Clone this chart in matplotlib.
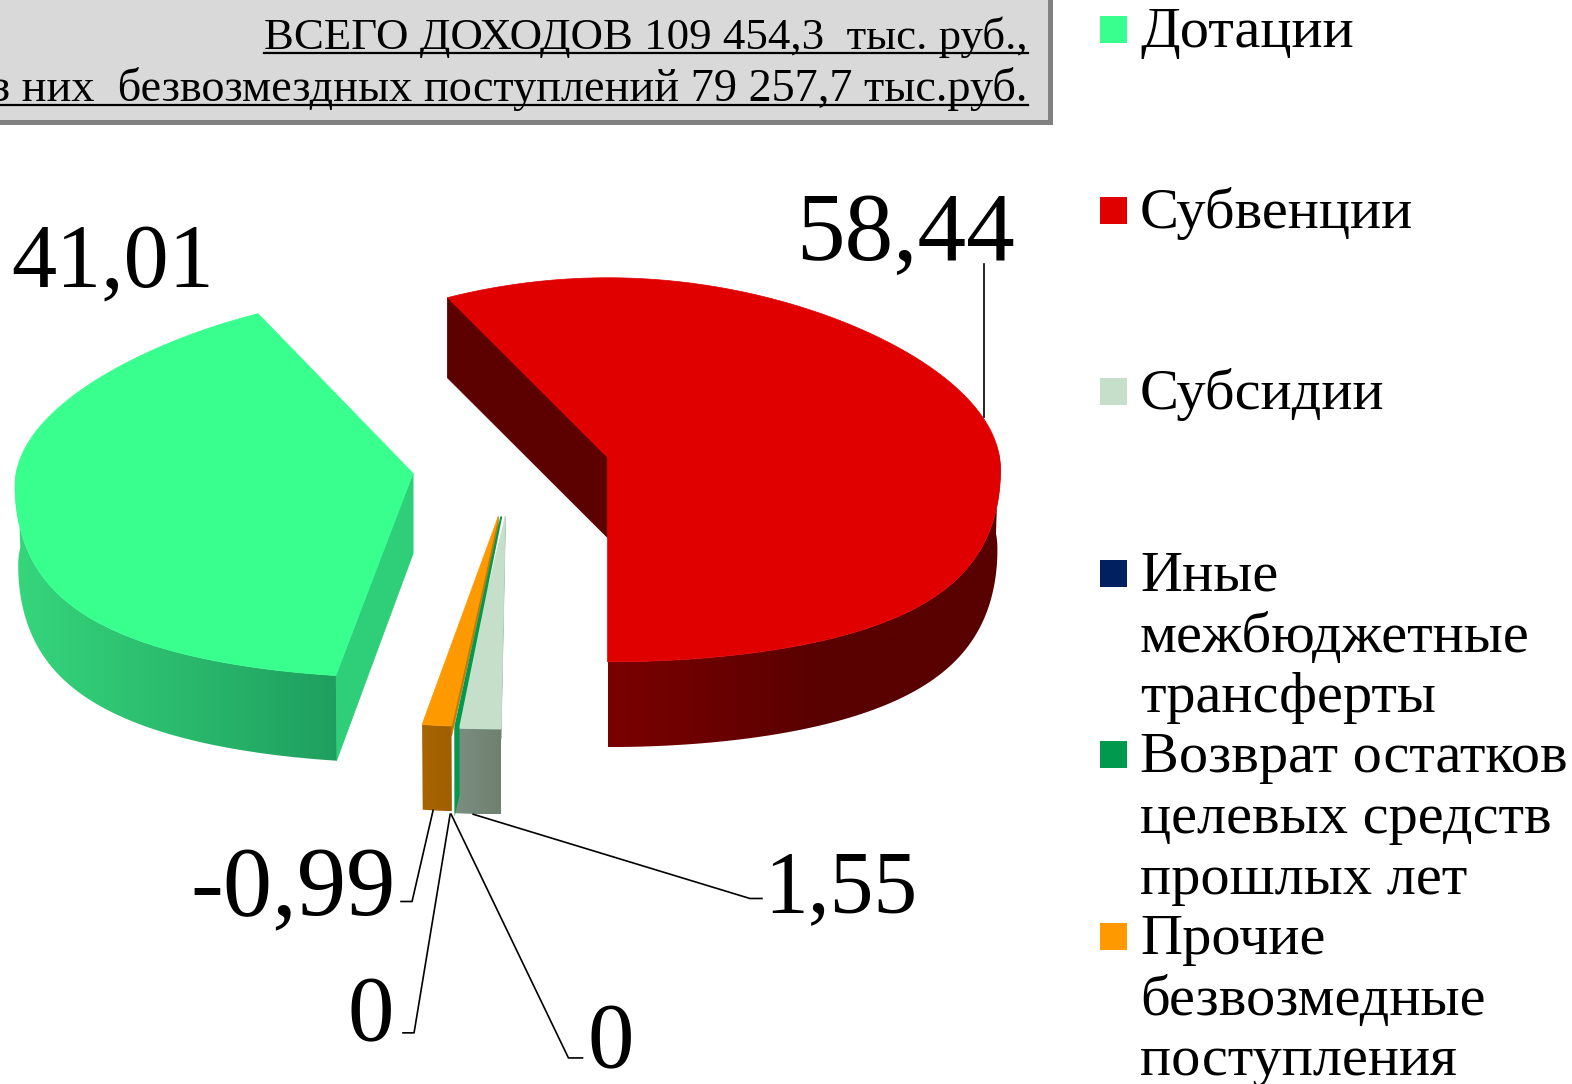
import numpy as np
import matplotlib
matplotlib.use('Agg')
import matplotlib.pyplot as plt
from matplotlib.colors import LinearSegmentedColormap
from matplotlib.patches import Polygon, Rectangle

plt.rcParams['font.family'] = ['Liberation Serif', 'DejaVu Serif']

categories = ['Дотации', 'Субвенции', 'Субсидии',
              'Иные\nмежбюджетные\nтрансферты',
              'Возврат остатков\nцелевых средств\nпрошлых лет',
              'Прочие\nбезвозмедные\nпоступления']
values = [41.01, 58.44, 1.55, 0, 0, -0.99]
colors = ['#39ff8f', '#e00000', '#c5dfcb', '#002060', '#00994d', '#ff9900']

title_lines = ['ВСЕГО ДОХОДОВ 109 454,3  тыс. руб.,',
               'из них  безвозмездных поступлений 79 257,7 тыс.руб.']

# where each slice sits after the explosion: apex x, apex y, width, y radius, turn, side drop, back squeeze
GEOM = [
    (412, 472, 397, 1.0, 0, 80, 0.15),
    (606, 456, 392, 1.0, 0, 80, 0.1),
    (504, 515, 392, 1.042, 0.5, 10, 0.1),
    (501, 515, 392, 1.0, 0, 10, 0.1),
    (500, 515, 392, 1.03, 0, 10, 0.1),
    (497, 515, 392, 1.031, 0, 10, 0.1),
]
# side face, rim left, rim right
SHADE = [
    ('#2ecf78', '#36d67c', '#1f9f5f'),
    ('#5c0000', '#7a0000', '#590000'),
    ('#a9bfae', '#7c8f80', '#6f8070'),
    ('#00994d', '#00873f', '#00873f'),
    ('#00994d', '#00994d', '#00994d'),
    ('#c97800', '#a86400', '#a05f00'),
]
RY = 191.5
SHIFT = 12.5

fig = plt.figure(figsize=(15.72, 10.84), dpi=100)
ax = fig.add_axes([0, 0, 1, 1])
ax.axis('off')


def rim(theta, g, drop=False):
    # theta runs clockwise on screen from the front of the pie
    ax_, ay, rx, r, turn, _, squeeze = g
    t = np.radians(theta + turn)
    c = np.cos(t)
    stretch = 1 + 0.25 * np.clip(c, 0, None) ** 2 - squeeze * np.clip(-c, 0, None) ** 2
    x = -rx * np.sin(t) * stretch
    y = SHIFT + RY * r * c
    if drop:
        back = np.interp(c, [-0.9, 0.0], [1.0, 0.992])
        return ax_ + back * x, ay + y + 80 + 5 * np.clip(c, 0, None)
    return ax_ + x, ay + y


total = sum(abs(v) for v in values)
sweeps = [abs(v) / total * 360 for v in values]
start = sum(sweeps[2:])
for i in range(len(values)):
    # the small slices follow the red one, so they wrap round the front
    if i == 0:
        th1 = start
    elif i == 1:
        th1 = start + sweeps[0]
    else:
        th1 = sum(sweeps[2:i])
    th2 = th1 + sweeps[i]
    g = GEOM[i]
    side, c_a, c_b = SHADE[i]
    z = 3 + i if i != 4 else 9
    if sweeps[i] == 0:
        # empty slice still shows as a hairline in the picture
        if i == 4:
            x1, y1 = rim(th1, g)
            x2, y2 = rim(th1, g, True)
            ax.add_patch(Polygon([(g[0] - 1, g[1]), (g[0] + 1, g[1]), (x1 + 5, y1), (x1 + 5, y2 - 16),
                                  (x1, y2 + 6), (x1, y1)],
                                 closed=True, fc=colors[i], ec='none', zorder=z))
        continue
    th = np.linspace(th1, th2, 240)
    # radial side face on the leading edge
    xa, ya = rim(th1, g)
    drop = g[5]
    ax.add_patch(Polygon([(g[0], g[1]), (xa, ya), rim(th1, g, True) if drop == 80 else (xa, ya + drop),
                          (g[0], g[1] + drop)],
                         closed=True, fc=side, ec=side, lw=0.6, zorder=z))
    # rim with its gradient, clipped out of an image
    vis = th[np.cos(np.radians(th)) > -0.1]
    tx, ty = rim(vis, g)
    bx, by = rim(vis, g, True)
    poly = Polygon(list(zip(tx, ty)) + list(zip(bx[::-1], by[::-1])), closed=True,
                   transform=ax.transData, fc='none', ec='none')
    ax.add_patch(poly)
    cmap = LinearSegmentedColormap.from_list('rim%d' % i, [c_a, c_b])
    grad = np.clip(np.linspace(0, 1, 256) / (0.55 if i == 1 else 1.0), 0, 1).reshape(1, -1)
    im = ax.imshow(grad, cmap=cmap, vmin=0, vmax=1, aspect='auto', zorder=z + 0.1,
                   extent=[min(tx.min(), bx.min()), max(tx.max(), bx.max()), by.max(), ty.min()])
    im.set_clip_path(poly)
    # top
    xs, ys = rim(th, g)
    pts = [(g[0], g[1])] + list(zip(xs, ys))
    ax.add_patch(Polygon(pts, closed=True, fc=colors[i], ec=colors[i], lw=0.5, zorder=z + 0.5))

ax.set_xlim(0, 1568)
ax.set_ylim(1081, 0)


def fmt(v):
    return ('%g' % v).replace('.', ',')


# value labels and leader lines
label_pos = [(112.5, 264), (903.5, 236), (839, 887), (370, 1015), (609, 1042), (292, 889)]
label_size = [65, 70, 63, 67, 67, 71]
leaders = [None,
           [(981, 263), (981, 416)],
           [(760, 896), (748, 896), (472, 812)],
           [(402, 1030), (413, 1030), (449, 812)],
           [(581, 1055), (567, 1055), (450, 812)],
           [(400, 899), (411, 899), (432, 808)]]
for v, (x, y), fs, seg in zip(values, label_pos, label_size, leaders):
    ax.text(x, y, fmt(v), fontsize=fs, ha='center', va='center', color='black', zorder=20)
    if seg:
        ax.plot(*zip(*seg), color='black', lw=1.2, zorder=19)

# heading box
ax.add_patch(Rectangle((-10, -10), 1060, 135, fc='#808080', ec='none', zorder=1))
ax.add_patch(Rectangle((-10, -10), 1055, 130, fc='#d9d9d9', ec='none', zorder=2))
heads = []
for s, y, fs in zip(title_lines, [49, 101], [32.3, 33.3]):
    heads.append(ax.text(1025, y, s, fontsize=fs, ha='right', va='baseline', zorder=3))
fig.canvas.draw()
rend = fig.canvas.get_renderer()
inv = ax.transData.inverted()
for t, y in zip(heads, [53, 105]):
    bb = t.get_window_extent(rend)
    x0 = inv.transform((bb.x0, bb.y0))[0]
    ax.plot([x0, 1025], [y, y], color='black', lw=1.6, zorder=3)

# legend
leg_y = [30, 210, 391, 572, 753, 934]
for name, col, y in zip(categories, colors, leg_y):
    ax.add_patch(Rectangle((1097, y - 14), 27, 27, fc=col, ec='none', zorder=5))
    for k, part in enumerate(name.split('\n')):
        ax.text(1137, y + 17 + k * 60.7, part, fontsize=42, ha='left', va='baseline', zorder=5)

fig.savefig('out.png', dpi=100)
